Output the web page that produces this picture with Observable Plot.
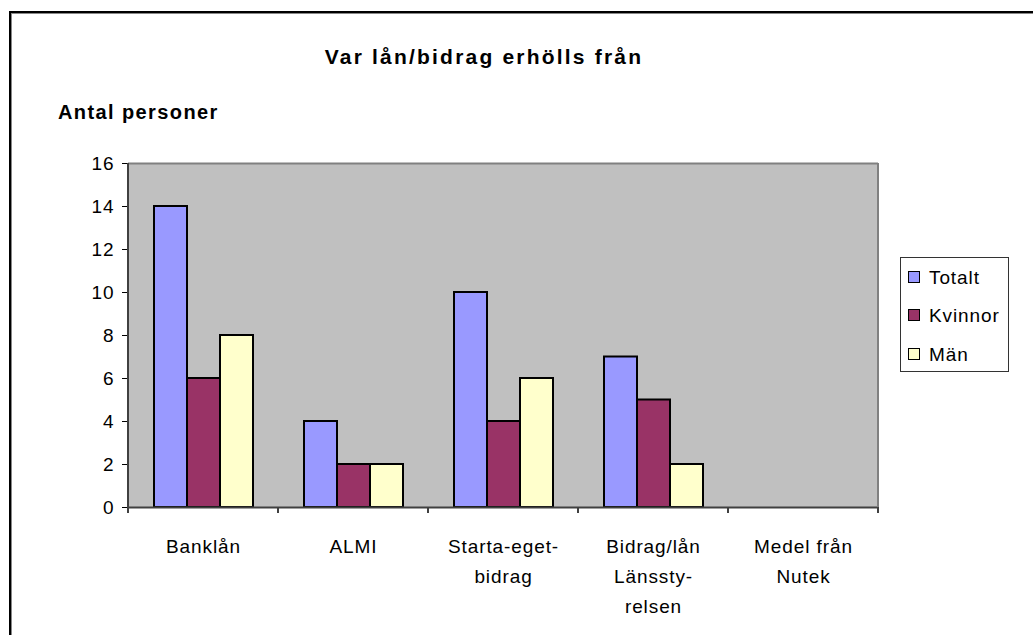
<!DOCTYPE html>
<html>
<head>
<meta charset="utf-8">
<script src="https://cdn.jsdelivr.net/npm/d3@7"></script>
<script src="https://cdn.jsdelivr.net/npm/@observablehq/plot@0.6"></script>
<style>
  html, body { margin: 0; padding: 0; background: #fff; }
  body { width: 1033px; height: 635px; position: relative; overflow: hidden; font-family: "Liberation Sans", Arial, sans-serif; }
  #border { position: absolute; left: 9px; top: 11px; width: 1100px; height: 700px; border: 2px solid #000; box-shadow: 1px 1px 0 #888 inset; }
  #chart { position: absolute; left: 0; top: 0; }
  #title { position: absolute; left: 0; width: 968px; top: 46px; text-align: center; font-weight: bold; font-size: 21px; line-height: 21px; letter-spacing: 2.2px; }
  #ylabel { position: absolute; left: 58px; top: 102px; font-weight: bold; font-size: 20px; line-height: 20px; letter-spacing: 1.4px; }
  #legend { position: absolute; left: 900px; top: 257px; width: 107px; height: 113px; border: 1px solid #333; background: #fff; }
  .item { position: absolute; left: 7px; height: 19px; display: flex; align-items: center; font-size: 19px; line-height: 19px; letter-spacing: 0.9px; }
  .sw { width: 10px; height: 10px; border: 1.5px solid #000; margin-right: 9px; }
</style>
</head>
<body>
<div id="border"></div>
<div id="chart"></div>
<div id="title">Var lån/bidrag erhölls från</div>
<div id="ylabel">Antal personer</div>
<div id="legend"></div>
<script>
// ---- data ----
const categories = ["Banklån", "ALMI", "Starta-eget-bidrag", "Bidrag/lån Länsstyrelsen", "Medel från Nutek"];
const tickLabels = ["Banklån", "ALMI", "Starta-eget-\nbidrag", "Bidrag/lån\nLänssty-\nrelsen", "Medel från\nNutek"];
const series = ["Totalt", "Kvinnor", "Män"];
const totalt  = [14, 4, 10, 7, 0];
const kvinnor = [6, 2, 4, 5, 0];
const man     = [8, 2, 6, 2, 0];
const colors = ["#9999FF", "#993366", "#FFFFCC"];
const yTicks = [0, 2, 4, 6, 8, 10, 12, 14, 16];

const valuesBySeries = [totalt, kvinnor, man];
const rows = [];
categories.forEach((c, i) => {
  series.forEach((s, j) => rows.push({cat: c, series: s, value: valuesBySeries[j][i]}));
});

const firstCat = categories[0];
const lastCat = categories[categories.length - 1];
const yMax = yTicks[yTicks.length - 1];

const plot = Plot.plot({
  width: 1033,
  height: 635,
  marginTop: 163,
  marginBottom: 128,
  marginLeft: 128,
  marginRight: 155,
  style: {fontFamily: "'Liberation Sans', Arial, sans-serif", fontSize: "19px", letterSpacing: "0.9px", color: "#000", background: "transparent"},
  fx: {domain: categories, padding: 0, axis: null},
  x: {domain: series, paddingInner: 0, paddingOuter: 0.76, axis: null},
  y: {domain: [0, yMax], ticks: yTicks, tickSize: 6, tickPadding: 8, label: null},
  color: {domain: series, range: colors},
  marks: [
    Plot.frame({fill: "#C0C0C0", stroke: "none", shapeRendering: "crispEdges"}),
    Plot.ruleY([yMax], {stroke: "#808080", strokeWidth: 2}),
    Plot.barY(rows.filter(d => d.value > 0), {fx: "cat", x: "series", y: "value", fill: "series", stroke: "#000", strokeWidth: 2}),
    Plot.ruleY([0], {stroke: "#404040", strokeWidth: 2}),
    // left axis line
    Plot.rect([firstCat], {fx: d => d, fill: "#404040", insetLeft: -1, insetRight: 149}),
    // right border of plot area
    Plot.rect([lastCat], {fx: d => d, fill: "#808080", insetLeft: 149, insetRight: -1}),
    // category tick marks between groups
    Plot.rect(categories, {fx: d => d, y1: () => 0, y2: () => 0, fill: "#404040", insetLeft: -1, insetRight: 149, insetBottom: -6}),
    Plot.rect([lastCat], {fx: d => d, y1: () => 0, y2: () => 0, fill: "#404040", insetLeft: 149, insetRight: -1, insetBottom: -6}),
    // category labels
    Plot.text(categories, {fx: d => d, text: (d, i) => tickLabels[i], frameAnchor: "bottom", dy: 24, lineAnchor: "top", lineHeight: 1.58, fill: "#000"})
  ]
});
document.getElementById("chart").appendChild(plot);

// legend
const legend = document.getElementById("legend");
const centers = [19, 57, 96];
series.forEach((s, j) => {
  const it = document.createElement("div");
  it.className = "item";
  it.style.top = (centers[j] - 9.5) + "px";
  const sw = document.createElement("div");
  sw.className = "sw";
  sw.style.background = colors[j];
  it.appendChild(sw);
  it.appendChild(document.createTextNode(s));
  legend.appendChild(it);
});
</script>
</body>
</html>
